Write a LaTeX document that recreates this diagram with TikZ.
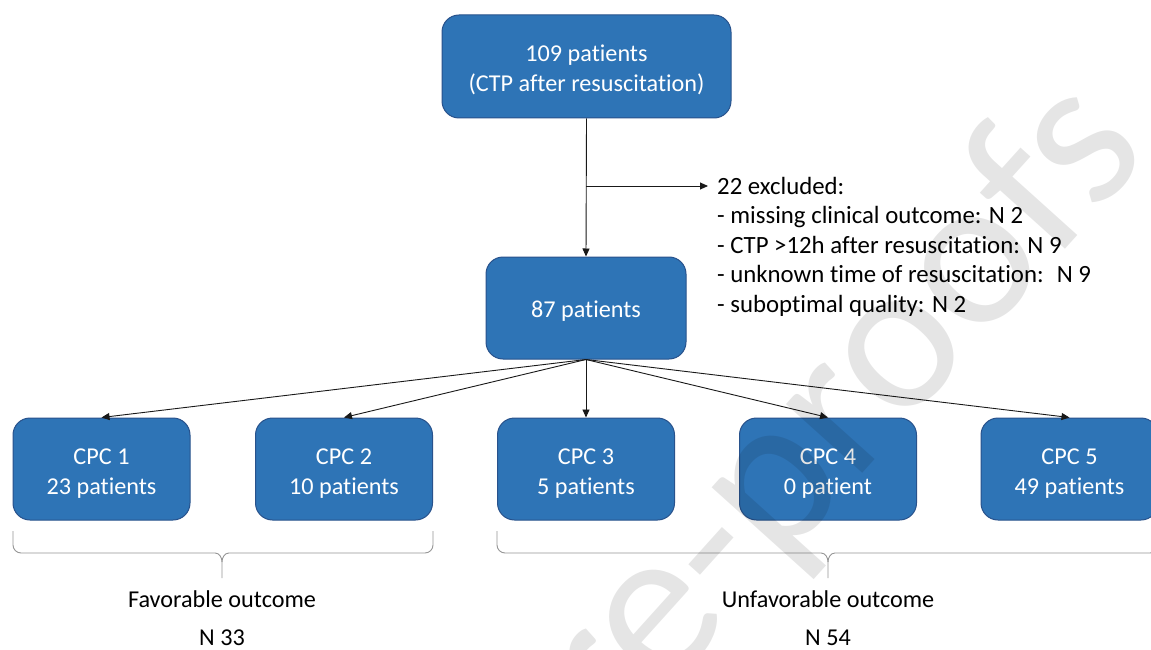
\documentclass[tikz,border=0pt]{standalone}
\usepackage{fontspec}
\setmainfont{Carlito}[Ligatures=NoCommon]
\usetikzlibrary{arrows.meta}
\definecolor{boxfill}{RGB}{46,116,182}
\definecolor{boxline}{RGB}{40,82,140}
\definecolor{linecol}{RGB}{25,25,25}
\definecolor{bracecol}{RGB}{150,150,150}
\newcommand\tfix[1]{\rule{0pt}{#1pt}}
\begin{document}
\begin{tikzpicture}[x=1pt,y=-1pt,
  box/.style={draw=boxline, line width=1pt, fill=boxfill, rounded corners=17pt,
    text=white, align=center, font=\fontsize{24.2}{30}\selectfont, inner sep=0pt},
  cpcbox/.style={box, minimum width=177pt, minimum height=102pt},
  conn/.style={draw=linecol, line width=0.9pt, -{Triangle[length=8pt,width=7pt]}},
  brace/.style={draw=bracecol, line width=0.9pt},
  lbl/.style={font=\fontsize{24.2}{30}\selectfont, inner sep=0pt}]
\useasboundingbox (0,0) rectangle (1151,650);
\clip (0,0) rectangle (1151,650);
\fill[white] (0,0) rectangle (1151,650);

% boxes
\node[box, minimum width=289pt, minimum height=103pt] (top) at (586.5,66.5) {\tfix{24}109 patients\\(CTP after resuscitation)};
\node[box, minimum width=200pt, minimum height=102pt] (mid) at (586,308) {\tfix{23}87 patients};
\node[cpcbox] (c1) at (101.5,469) {\tfix{24}CPC 1\\23 patients};
\node[cpcbox] (c2) at (344,469) {\tfix{24}CPC 2\\10 patients};
\node[cpcbox] (c3) at (586,469) {\tfix{24}CPC 3\\5 patients};
\node[cpcbox] (c4) at (828,469) {\tfix{24}CPC 4\\0 patient};
\node[cpcbox] (c5) at (1069.5,469) {\tfix{24}CPC 5\\49 patients};

% exclusion text
\node[anchor=north west, inner sep=0pt, align=left, font=\fontsize{24.8}{29.5}\selectfont] (excl) at (717,177)
  {22 excluded:\\- missing clinical outcome: N 2\\- CTP >12h after resuscitation: N 9\\- unknown time of resuscitation:~ N 9\\- suboptimal quality: N 2};

% connectors
\draw[conn] (top.south) -- (mid.north);
\coordinate (br) at (586,186);
\coordinate (exTip) at (708,186);
\draw[conn] (br) -- (exTip);
\foreach \i in {1,...,5} {\draw[conn] (mid.south) -- (c\i.north);}

% braces
\draw[brace] (13,531) -- (13,545) to[out=-90,in=180] (21,553) -- (215,553) to[out=0,in=90] (222,562) -- (222,578);
\draw[brace] (433,531) -- (433,545) to[out=-90,in=0] (425,553) -- (229,553) to[out=180,in=90] (222,562);
\draw[brace] (497,531) -- (497,545) to[out=-90,in=180] (505,553) -- (821,553) to[out=0,in=90] (828,562) -- (828,578);
\draw[brace] (1158,531) -- (1158,545) to[out=-90,in=0] (1150,553) -- (835,553) to[out=180,in=90] (828,562);

% labels
\node[lbl] (fav) at (222,599) {Favorable outcome};
\node[lbl] (n33) at (222,638) {N 33};
\node[lbl] (unfav) at (828,599) {Unfavorable outcome};
\node[lbl] (n54) at (828,638) {N 54};

% watermark
\node[rotate=48, text=black, text opacity=0.1, inner sep=0pt, font=\fontsize{215}{215}\selectfont] (wm) at (804,455) {Pre-proofs};
\end{tikzpicture}
\end{document}
